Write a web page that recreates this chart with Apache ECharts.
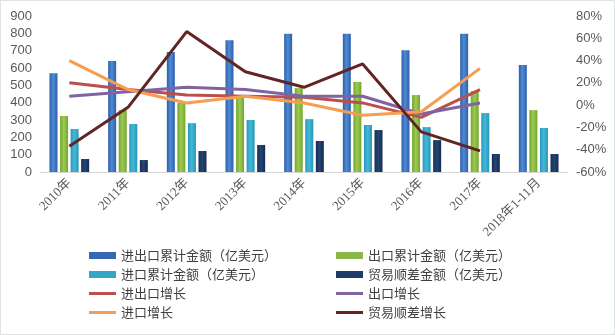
<!DOCTYPE html>
<html>
<head>
<meta charset="utf-8">
<script src="https://cdn.jsdelivr.net/npm/echarts@6/dist/echarts.min.js"></script>
<style>
  html, body { margin: 0; padding: 0; background: #fff; }
  #chart { width: 613px; height: 333px; border: 1px solid #dfe3e8; }
</style>
</head>
<body>
<div id="chart"></div>
<script>
// Categories (years)
const years = ['2010年', '2011年', '2012年', '2013年', '2014年', '2015年', '2016年', '2017年', '2018年1-11月'];

// Amounts, 亿美元 (left axis)
const totalTrade = [570, 640, 693, 760, 797, 797, 703, 797, 617];
const exportsAmt = [323, 357, 398, 432, 484, 519, 444, 466, 357];
const importsAmt = [248, 277, 282, 300, 305, 271, 259, 340, 254];
const surplusAmt = [75, 69, 121, 156, 179, 242, 184, 104, 104];

// Growth rates, % (right axis)
const totalGrowth   = [20, 14, 9, 8, 7, 2, -11, 14];
const exportGrowth  = [8, 12, 16, 14, 8, 8, -8, 2];
const importGrowth  = [40, 14, 2, 8, 2, -9, -6, 33];
const surplusGrowth = [-37, -2, 66, 30, 16, 37, -24, -41];

// Axis ticks
const leftAxis = { min: 0, max: 900, step: 100 };
const rightAxis = { min: -60, max: 80, step: 20 };

const font = "'Noto Sans CJK SC', 'Noto Sans', sans-serif";

function barFill(dark, light) {
  return new echarts.graphic.LinearGradient(0, 0, 1, 0, [
    { offset: 0, color: dark },
    { offset: 0.45, color: light },
    { offset: 1, color: dark }
  ]);
}

function bar(name, data, dark, light) {
  return {
    name, type: 'bar', data, yAxisIndex: 0,
    barWidth: 8, barGap: '32%',
    itemStyle: { color: barFill(dark, light) }
  };
}

function line(name, data, color) {
  return {
    name, type: 'line', data, yAxisIndex: 1,
    symbol: 'none', smooth: false,
    lineStyle: { width: 3, color },
    itemStyle: { color }
  };
}

const legendText = { fontFamily: font, fontSize: 13, color: '#404040' };

// One legend block per column and mark kind
function legendBlock(left, top, names, iconHeight, iconColors) {
  return {
    orient: 'vertical', left, top, padding: 0, itemGap: 6,
    itemWidth: 27, itemHeight: iconHeight, textStyle: legendText,
    data: names.map((n, i) => ({ name: n, icon: 'rect', itemStyle: { color: iconColors[i] } }))
  };
}

const chart = echarts.init(document.getElementById('chart'), null, { renderer: 'canvas' });

chart.setOption({
  animation: false,
  textStyle: { fontFamily: font },
  grid: { left: 39, right: 46, top: 15, bottom: 162 },
  legend: [
    legendBlock(88, 248, ['进出口累计金额（亿美元）', '进口累计金额（亿美元）'], 7, ['#3567b2', '#33a6c8']),
    legendBlock(335, 248, ['出口累计金额（亿美元）', '贸易顺差金额（亿美元）'], 7, ['#8bb746', '#1f3a66']),
    legendBlock(88, 286, ['进出口增长', '进口增长'], 3, ['#b9504e', '#f59d52']),
    legendBlock(335, 286, ['出口增长', '贸易顺差增长'], 3, ['#8064a2', '#632523'])
  ],
  xAxis: {
    type: 'category', data: years,
    axisLine: { lineStyle: { color: '#d9d9d9' } },
    axisTick: { show: false },
    axisLabel: { rotate: 45, color: '#595959', fontSize: 13, fontFamily: "'Liberation Serif', 'Noto Sans CJK SC', serif", margin: 9, interval: 0 }
  },
  yAxis: [
    {
      type: 'value', min: leftAxis.min, max: leftAxis.max, interval: leftAxis.step,
      axisLine: { show: false }, axisTick: { show: false }, splitLine: { show: false },
      axisLabel: { color: '#595959', fontSize: 13, fontFamily: "'Liberation Sans', sans-serif", margin: 8 }
    },
    {
      type: 'value', min: rightAxis.min, max: rightAxis.max, interval: rightAxis.step,
      axisLine: { show: false }, axisTick: { show: false }, splitLine: { show: false },
      axisLabel: { color: '#595959', fontSize: 13, fontFamily: "'Liberation Sans', sans-serif", margin: 8, formatter: '{value}%' }
    }
  ],
  series: [
    bar('进出口累计金额（亿美元）', totalTrade, '#2d5fa8', '#4f8ad6'),
    bar('出口累计金额（亿美元）', exportsAmt, '#77a531', '#9ccb52'),
    bar('进口累计金额（亿美元）', importsAmt, '#2696b8', '#45b9d8'),
    bar('贸易顺差金额（亿美元）', surplusAmt, '#152c4f', '#254576'),
    line('进出口增长', totalGrowth, '#b9504e'),
    line('出口增长', exportGrowth, '#8064a2'),
    line('进口增长', importGrowth, '#f59d52'),
    line('贸易顺差增长', surplusGrowth, '#632523')
  ]
});
</script>
</body>
</html>
